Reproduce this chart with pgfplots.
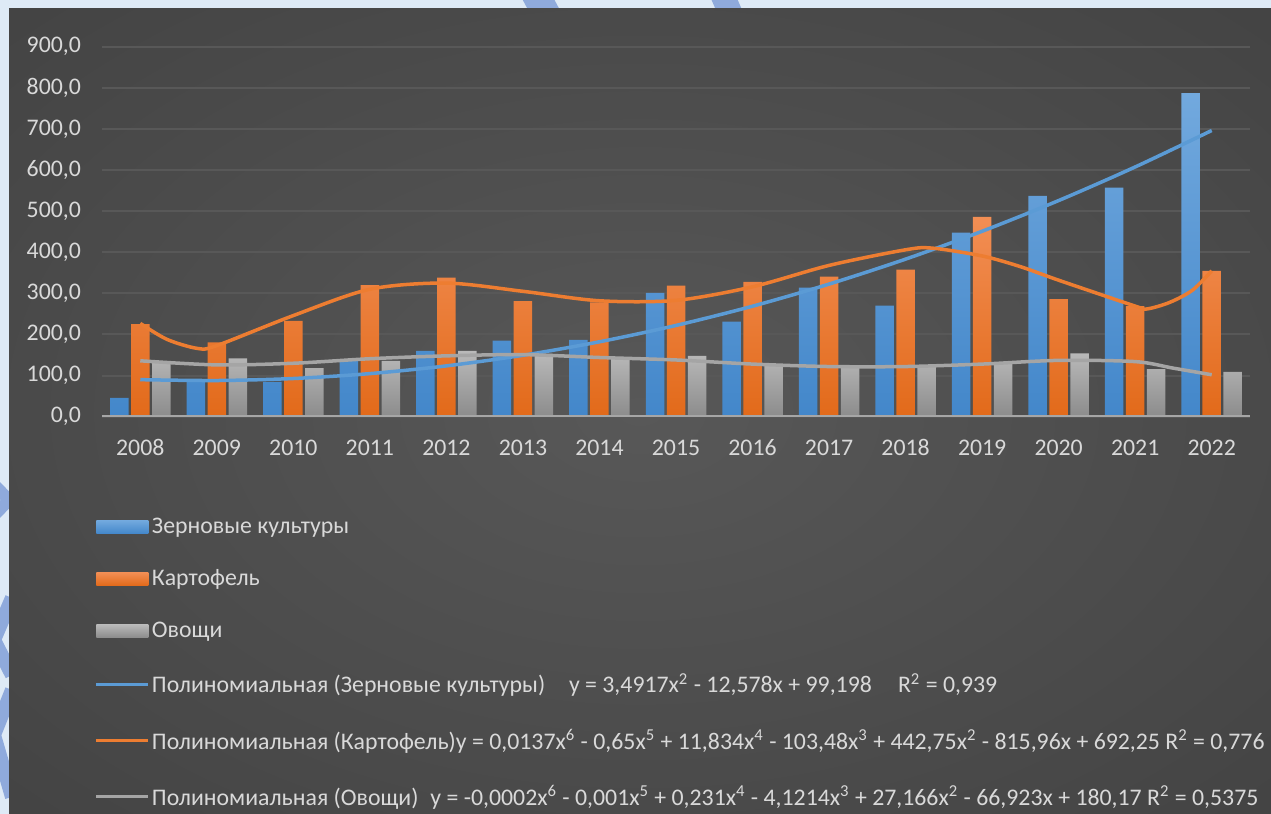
\documentclass[border=0pt]{standalone}
\usepackage{fontspec}
\setmainfont{Carlito}
\usepackage{pgfplots}
\pgfplotsset{compat=1.18}

\definecolor{frame}{RGB}{222,234,246}
\definecolor{stripe}{RGB}{143,170,220}
\definecolor{bgin}{RGB}{88,88,88}
\definecolor{bgmid}{RGB}{62,62,62}
\definecolor{bgout}{RGB}{38,38,38}
\definecolor{txt}{RGB}{217,217,217}
\definecolor{gridc}{RGB}{88,88,88}
\definecolor{basec}{RGB}{166,166,166}
\definecolor{blueL}{RGB}{114,169,222}
\definecolor{blueD}{RGB}{67,135,202}
\definecolor{oraL}{RGB}{242,142,84}
\definecolor{oraD}{RGB}{226,106,26}
\definecolor{gryL}{RGB}{186,186,186}
\definecolor{gryD}{RGB}{140,140,140}
\definecolor{tBlue}{RGB}{91,155,213}
\definecolor{tOra}{RGB}{237,125,49}
\definecolor{tGry}{RGB}{165,165,165}

\pgfdeclareradialshading{panel}{\pgfpoint{0bp}{0bp}}{color(0bp)=(bgin); color(45bp)=(bgmid); color(72bp)=(bgout)}

\newcommand{\lf}{\fontsize{11.9}{14}\selectfont}
\newcommand{\sq}[1]{\textsuperscript{#1}}

\begin{document}
\begin{tikzpicture}
% frame and dark panel, in pixels of the reference
\begin{scope}[x=0.5pt, y=-0.5pt, shift={(0pt,407pt)}]
  \fill[frame] (0,0) rectangle (1271,814);
  \begin{scope}
    \clip (0,0) rectangle (1271,814);
    \draw[stripe, line width=14pt] (528,-20) -- (560,40);
    \draw[stripe, line width=12pt] (716,-20) -- (742,40);
    \draw[stripe, line width=6pt] (-20,470) -- (9,500) -- (-20,530);
    \draw[stripe, line width=7pt] (12,598) -- (-6,640) -- (12,675);
    \draw[stripe, line width=7pt] (12,690) -- (-6,735) -- (12,797);
  \end{scope}
  \fill[shading=panel] (9,9) rectangle (1271,814);
\end{scope}

\begin{axis}[
  at={(51pt,198.65pt)}, anchor=south west,
  scale only axis, width=574pt, height=185pt,
  xmin=-0.5, xmax=14.5, ymin=0, ymax=900,
  axis line style={draw=none},
  tick style={draw=none},
  ytick={0,100,...,900},
  ymajorgrids,
  grid style={gridc, line width=1pt},
  /pgf/number format/assume math mode=true,
  /pgf/number format/.cd, fixed, fixed zerofill, precision=1, use comma, 1000 sep={},
  /pgfplots/.cd,
  yticklabel style={font=\lf, text=txt, xshift=-7pt},
  xtick={0,...,14},
  xticklabels={2008,2009,2010,2011,2012,2013,2014,2015,2016,2017,2018,2019,2020,2021,2022},
  xticklabel style={font=\lf, text=txt, anchor=north, text height=7.6pt, text depth=0pt, yshift=-8.5pt},
  legend cell align=left,
  legend style={at={(-0.0061,-0.268)}, anchor=north west, draw=none, fill=none,
    inner sep=0pt, outer sep=0pt, font=\lf, text=txt, row sep=14.6pt,
    nodes={inner sep=1pt}},
]
\addplot[ybar, bar width=9.25pt, bar shift=-10.5pt, draw=none,
  top color=blueL, bottom color=blueD,
  legend image code/.code={\path[top color=blueL, bottom color=blueD] (0pt,-3.25pt) rectangle (26pt,3.25pt);}]
  coordinates {(0,46) (1,89) (2,85) (3,135) (4,160) (5,185) (6,187) (7,301)
    (8,231) (9,314) (10,270) (11,448) (12,537) (13,557) (14,787)};
\addlegendentry{Зерновые культуры}
\addplot[ybar, bar width=9.25pt, bar shift=0pt, draw=none,
  top color=oraL, bottom color=oraD,
  legend image code/.code={\path[top color=oraL, bottom color=oraD] (0pt,-3.25pt) rectangle (26pt,3.25pt);}]
  coordinates {(0,225) (1,181) (2,233) (3,320) (4,338) (5,281) (6,278) (7,319)
    (8,328) (9,341) (10,358) (11,486) (12,286) (13,269) (14,355)};
\addlegendentry{Картофель}
\addplot[ybar, bar width=9.25pt, bar shift=10.5pt, draw=none,
  top color=gryL, bottom color=gryD,
  legend image code/.code={\path[top color=gryL, bottom color=gryD] (0pt,-3.25pt) rectangle (26pt,3.25pt);}]
  coordinates {(0,131) (1,142) (2,118) (3,136) (4,160) (5,153) (6,143) (7,148)
    (8,123) (9,118) (10,122) (11,130) (12,154) (13,116) (14,109)};
\addlegendentry{Овощи}

% trend lines
\addplot[smooth, tBlue, line width=1.75pt,
  legend image code/.code={\draw[tBlue, line width=1.5pt] (0pt,0pt) -- (26pt,0pt);}]
  coordinates {(0,90.1) (1,88.0) (2,92.9) (3,104.8) (4,123.6) (5,149.4) (6,182.2)
    (7,222.0) (8,268.8) (9,322.6) (10,383.3) (11,451.1) (12,525.8) (13,607.5) (14,696.2)};
\addlegendentry{Полиномиальная (Зерновые культуры)\hspace{1em}y = 3,4917x\sq{2} - 12,578x + 99,198\hspace{1.1em}R\sq{2} = 0,939}
\addplot[smooth, tOra, line width=1.75pt,
  legend image code/.code={\draw[tOra, line width=1.5pt] (0pt,0pt) -- (26pt,0pt);}]
  coordinates {(0,227) (0.35,188) (0.75,166) (1,173) (2,246) (3,310) (4,325)
    (5,305) (6,282) (7,283) (8,316) (9,368) (10,406) (10.35,410) (11,391) (11.5,365)
    (12,332) (13,269) (13.15,262) (13.45,278) (13.75,308) (14,355)};
\addlegendentry{Полиномиальная (Картофель)y = 0,0137x\sq{6} - 0,65x\sq{5} + 11,834x\sq{4} - 103,48x\sq{3} + 442,75x\sq{2} - 815,96x + 692,25 R\sq{2} = 0,776}
\addplot[smooth, tGry, line width=1.75pt,
  legend image code/.code={\draw[tGry, line width=1.5pt] (0pt,0pt) -- (26pt,0pt);}]
  coordinates {(0,136) (1,126) (2,130) (3,141) (4,148) (5,151) (6,144) (7,138)
    (8,128) (9,122) (10,122) (11,128) (12,137) (13,134) (13.5,118) (14,102)};
\addlegendentry{Полиномиальная (Овощи)\hspace{0.5em}y = -0,0002x\sq{6} - 0,001x\sq{5} + 0,231x\sq{4} - 4,1214x\sq{3} + 27,166x\sq{2} - 66,923x + 180,17 R\sq{2} = 0,5375}

\draw[basec, line width=1.5pt] (axis cs:-0.5,0) -- (axis cs:14.5,0);
\end{axis}
\end{tikzpicture}
\end{document}
